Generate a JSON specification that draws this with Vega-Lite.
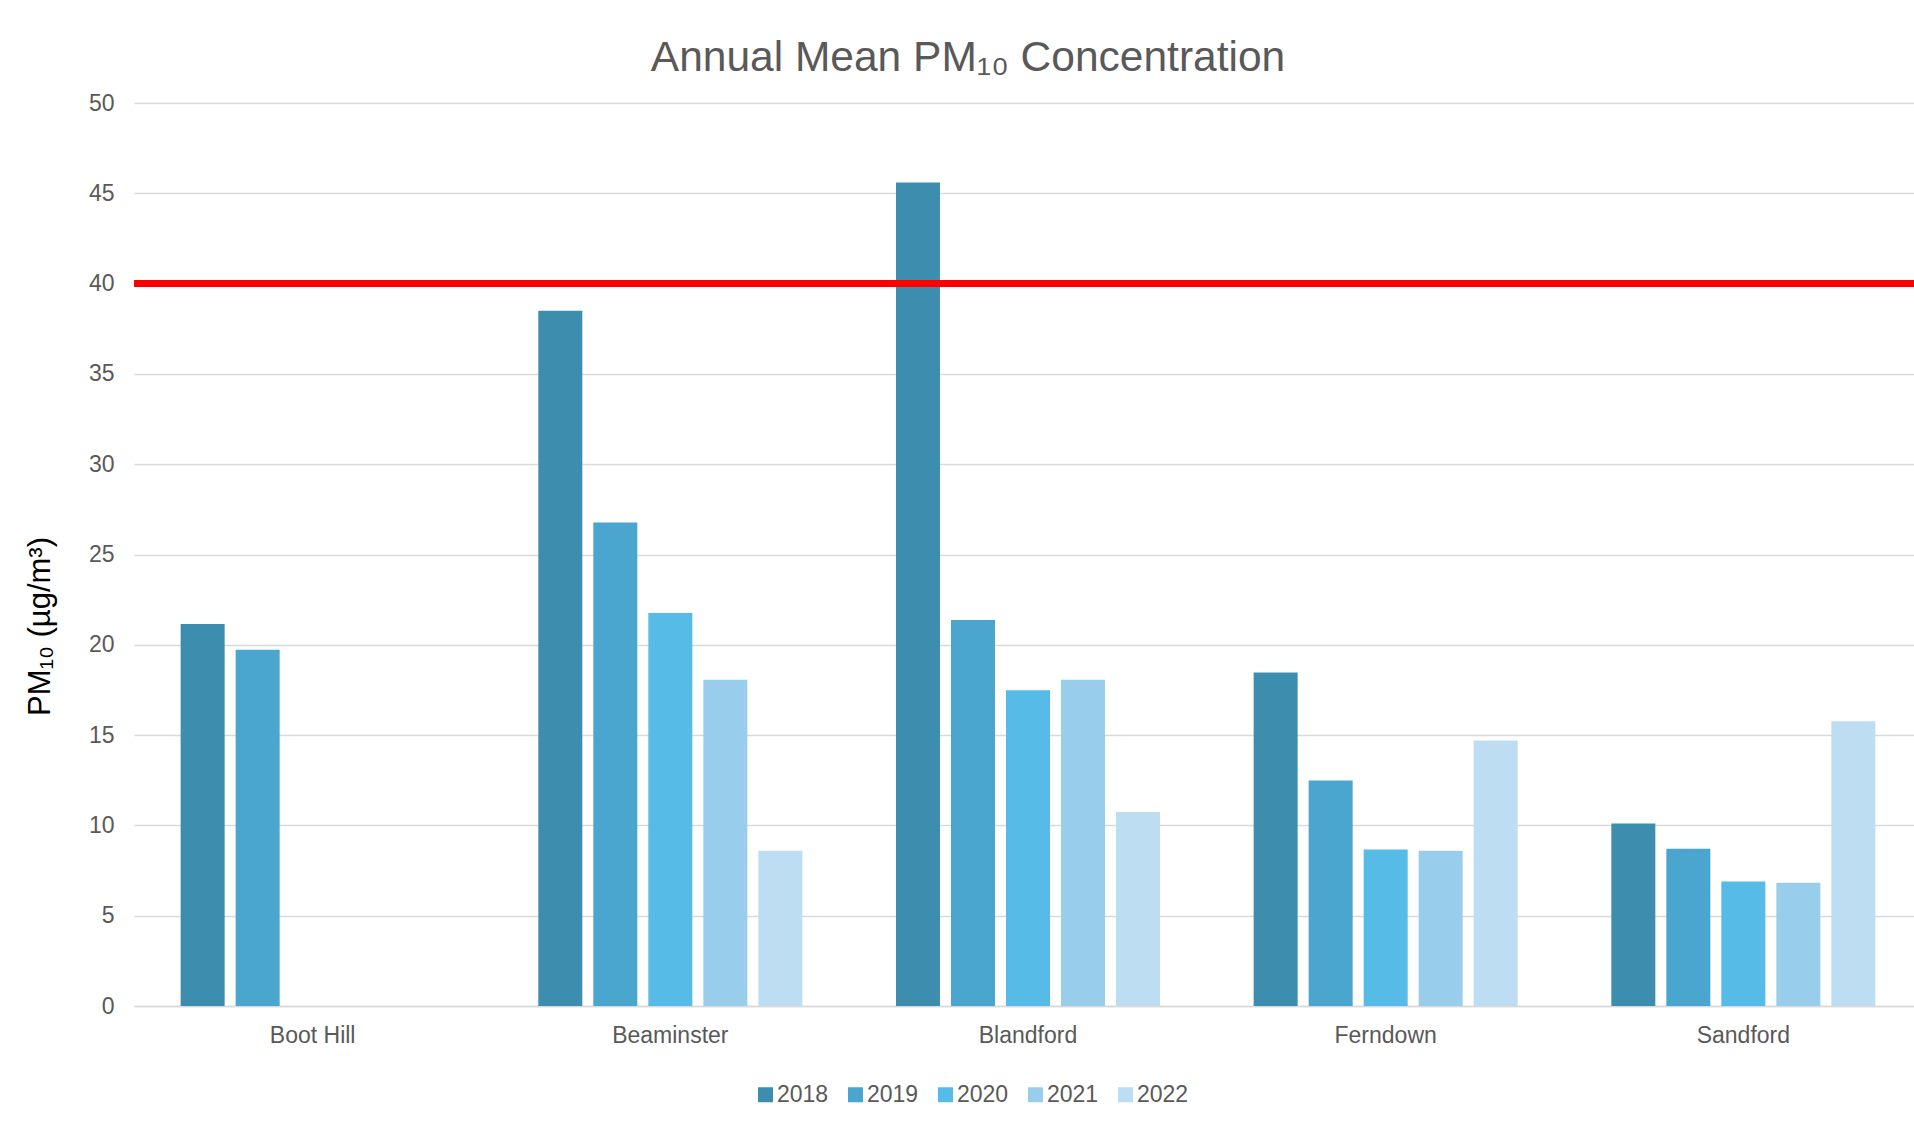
{
  "$schema": "https://vega.github.io/schema/vega-lite/v6.json",
  "width": 1780,
  "height": 903,
  "autosize": {"type": "none"},
  "padding": {"left": 134, "top": 103, "right": 0, "bottom": 119},
  "background": "white",
  "title": {
    "text": "Annual Mean PM₁₀ Concentration",
    "font": "Liberation Sans",
    "fontSize": 42.5,
    "fontWeight": "normal",
    "color": "#595959",
    "anchor": "middle",
    "frame": "group",
    "dx": -56,
    "dy": 41,
    "baseline": "alphabetic",
    "offset": 20
  },
  "config": {
    "view": {"stroke": null},
    "font": "Liberation Sans"
  },
  "layer": [
    {
      "data": {
        "values": [
          {"site": "Boot Hill", "year": "2018", "value": 21.15},
          {"site": "Boot Hill", "year": "2019", "value": 19.72},
          {"site": "Beaminster", "year": "2018", "value": 38.5},
          {"site": "Beaminster", "year": "2019", "value": 26.77},
          {"site": "Beaminster", "year": "2020", "value": 21.76},
          {"site": "Beaminster", "year": "2021", "value": 18.06},
          {"site": "Beaminster", "year": "2022", "value": 8.6},
          {"site": "Blandford", "year": "2018", "value": 45.6},
          {"site": "Blandford", "year": "2019", "value": 21.38},
          {"site": "Blandford", "year": "2020", "value": 17.48},
          {"site": "Blandford", "year": "2021", "value": 18.07},
          {"site": "Blandford", "year": "2022", "value": 10.74},
          {"site": "Ferndown", "year": "2018", "value": 18.47},
          {"site": "Ferndown", "year": "2019", "value": 12.48},
          {"site": "Ferndown", "year": "2020", "value": 8.66},
          {"site": "Ferndown", "year": "2021", "value": 8.59},
          {"site": "Ferndown", "year": "2022", "value": 14.7},
          {"site": "Sandford", "year": "2018", "value": 10.1},
          {"site": "Sandford", "year": "2019", "value": 8.71},
          {"site": "Sandford", "year": "2020", "value": 6.89},
          {"site": "Sandford", "year": "2021", "value": 6.83},
          {"site": "Sandford", "year": "2022", "value": 15.77}
        ]
      },
      "mark": {"type": "bar"},
      "encoding": {
        "x": {
          "field": "site",
          "type": "nominal",
          "sort": ["Boot Hill", "Beaminster", "Blandford", "Ferndown", "Sandford"],
          "scale": {"range": [0, 1788], "paddingInner": 0.231, "paddingOuter": 0.115},
          "axis": {
            "title": null,
            "labelAngle": 0,
            "labelFontSize": 23,
            "labelColor": "#595959",
            "labelPadding": 18.5,
            "ticks": false,
            "domain": true,
            "domainColor": "#D9D9D9",
            "domainWidth": 1.5
          }
        },
        "xOffset": {
          "field": "year",
          "type": "nominal",
          "scale": {"paddingInner": 0.2, "paddingOuter": 0.1}
        },
        "y": {
          "field": "value",
          "type": "quantitative",
          "scale": {"domain": [0, 50]},
          "axis": {
            "title": "PM₁₀ (µg/m³)",
            "values": [0, 5, 10, 15, 20, 25, 30, 35, 40, 45, 50],
            "labelFontSize": 23,
            "labelColor": "#595959",
            "labelPadding": 20,
            "domain": false,
            "ticks": false,
            "grid": true,
            "gridColor": "#D9D9D9",
            "gridWidth": 1.5,
            "titleFontSize": 31,
            "titleFontWeight": "normal",
            "titleColor": "#000000",
            "titleAngle": -90,
            "titleX": -94,
            "titleY": 523,
            "titleAlign": "center",
            "titleBaseline": "middle"
          }
        },
        "color": {
          "field": "year",
          "type": "nominal",
          "scale": {
            "domain": ["2018", "2019", "2020", "2021", "2022"],
            "range": ["#3D8EAE", "#4AA6CE", "#56BCE7", "#98CEEC", "#BDDDF2"]
          },
          "legend": {
            "title": null,
            "orient": "none",
            "legendX": 620,
            "legendY": 980,
            "direction": "horizontal",
            "symbolType": "square",
            "symbolSize": 225,
            "symbolStrokeWidth": 0,
            "labelFontSize": 23,
            "labelColor": "#595959",
            "labelOffset": 0,
            "columnPadding": 15
          }
        }
      }
    },
    {
      "data": {"values": [{"limit": 40}]},
      "mark": {"type": "rule", "color": "#FF0000", "strokeWidth": 7},
      "encoding": {
        "y": {"field": "limit", "type": "quantitative", "title": "PM₁₀ (µg/m³)"}
      }
    }
  ]
}
